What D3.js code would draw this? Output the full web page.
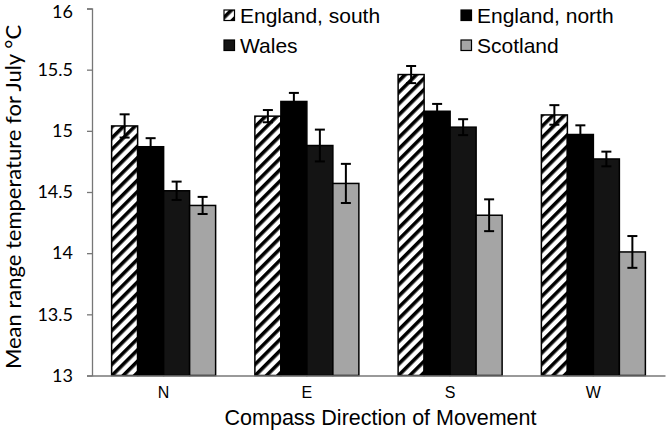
<!DOCTYPE html>
<html>
<head>
<meta charset="utf-8">
<script src="https://cdn.jsdelivr.net/npm/d3@7"></script>
<style>
  body { margin: 0; background: #fff; }
  svg { display: block; }
</style>
</head>
<body>
<div id="chart"></div>
<script>
// directions on the x axis and the four regions
var directions = ["N", "E", "S", "W"];
var regions = ["England, south", "England, north", "Wales", "Scotland"];

// mean July temperature per region, one value per direction (N, E, S, W)
var englandSouth = [15.04, 15.12, 15.46, 15.13];
var englandNorth = [14.87, 15.24, 15.16, 14.97];
var wales = [14.51, 14.88, 15.03, 14.77];
var scotland = [14.39, 14.57, 14.31, 14.01];

// standard errors
var errSouth = [0.095, 0.05, 0.07, 0.08];
var errNorth = [0.07, 0.07, 0.06, 0.075];
var errWales = [0.075, 0.13, 0.065, 0.06];
var errScotland = [0.07, 0.16, 0.13, 0.13];

var yTicks = [13, 13.5, 14, 14.5, 15, 15.5, 16];

var series = [englandSouth, englandNorth, wales, scotland];
var errors = [errSouth, errNorth, errWales, errScotland];

var W = 666, H = 437;
// plot area (note: "top" is reserved on window, so prefixed names)
var plotLeft = 92, plotRight = 665, plotTop = 8.5, plotBottom = 375.5;

var svg = d3.select("#chart").append("svg")
    .attr("width", W)
    .attr("height", H);

// hatch pattern for England, south
var defs = svg.append("defs");
defs.append("pattern")
    .attr("id", "hatch")
    .attr("patternUnits", "userSpaceOnUse")
    .attr("width", 8)
    .attr("height", 8)
    .attr("patternTransform", "rotate(45)")
  .call(function (p) {
    p.append("rect").attr("width", 8).attr("height", 8).attr("fill", "#fff");
    p.append("rect").attr("x", 0).attr("width", 3.6).attr("height", 8).attr("fill", "#000");
  });

var fills = ["url(#hatch)", "#000000", "#141414", "#a5a5a5"];

var x0 = d3.scaleBand()
    .domain(directions)
    .range([plotLeft, plotRight])
    .paddingInner(0.274)
    .paddingOuter(0.137);

var x1 = d3.scaleBand()
    .domain(d3.range(regions.length))
    .range([0, x0.bandwidth()]);

var y = d3.scaleLinear()
    .domain([13, 16])
    .range([plotBottom, plotTop]);

// bars
var groups = svg.append("g").selectAll("g")
    .data(directions)
    .join("g")
    .attr("transform", function (d) { return "translate(" + x0(d) + ",0)"; });

var barData = function (d, i) {
  return series.map(function (s, k) {
    return { k: k, v: s[i], e: errors[k][i] };
  });
};

groups.selectAll("rect")
    .data(barData)
    .join("rect")
    .attr("x", function (d) { return x1(d.k); })
    .attr("y", function (d) { return y(d.v); })
    .attr("width", x1.bandwidth())
    .attr("height", function (d) { return y(13) - y(d.v); })
    .attr("fill", function (d) { return fills[d.k]; })
    .attr("stroke", "#000")
    .attr("stroke-width", 1.5);

// error bars
var eb = groups.selectAll("g.err")
    .data(barData)
    .join("g")
    .attr("class", "err")
    .attr("stroke", "#000")
    .attr("stroke-width", 2);

eb.append("line")
    .attr("x1", function (d) { return x1(d.k) + x1.bandwidth() / 2; })
    .attr("x2", function (d) { return x1(d.k) + x1.bandwidth() / 2; })
    .attr("y1", function (d) { return y(d.v + d.e); })
    .attr("y2", function (d) { return y(d.v - d.e); });
eb.selectAll("line.cap")
    .data(function (d) { return [d.v + d.e, d.v - d.e].map(function (v) { return { k: d.k, v: v }; }); })
    .join("line")
    .attr("class", "cap")
    .attr("x1", function (d) { return x1(d.k) + x1.bandwidth() / 2 - 5; })
    .attr("x2", function (d) { return x1(d.k) + x1.bandwidth() / 2 + 5; })
    .attr("y1", function (d) { return y(d.v); })
    .attr("y2", function (d) { return y(d.v); });

// y axis
var yAxis = svg.append("g")
    .attr("transform", "translate(" + plotLeft + ",0)")
    .call(d3.axisLeft(y).tickValues(yTicks).tickSize(5).tickPadding(14).tickFormat(d3.format("")));
yAxis.select(".domain").attr("stroke", "#777").attr("stroke-width", 1.3);
yAxis.selectAll(".tick line").attr("stroke", "#777").attr("stroke-width", 1.3);
yAxis.selectAll("text")
    .attr("font-family", "Lato, 'Open Sans', sans-serif")
    .attr("font-size", 18)
    .attr("fill", "#000");
// keep the top label inside the picture
yAxis.selectAll(".tick text").filter(function (d) { return d === 16; }).attr("dy", "0.5em");

// x axis
var xAxis = svg.append("g")
    .attr("transform", "translate(0," + plotBottom + ")")
    .call(d3.axisBottom(x0).tickSize(0).tickPadding(11).tickSizeOuter(0));
xAxis.select(".domain").attr("stroke", "#777").attr("stroke-width", 1.3);
xAxis.selectAll("text")
    .attr("font-family", "'Liberation Sans', Arial, sans-serif")
    .attr("font-size", 16)
    .attr("fill", "#000");

// axis titles
svg.append("text")
    .attr("x", (plotLeft + plotRight) / 2 + 2)
    .attr("y", 425)
    .attr("text-anchor", "middle")
    .attr("font-family", "'Liberation Sans', Arial, sans-serif")
    .attr("font-size", 21.5)
    .text("Compass Direction of Movement");

svg.append("text")
    .attr("transform", "translate(21," + ((plotBottom + plotTop) / 2 + 5) + ") rotate(-90)")
    .attr("text-anchor", "middle")
    .attr("font-family", "Lato, 'Open Sans', sans-serif")
    .attr("font-size", 22)
    .text("Mean range temperature for July °C");

// legend
var legendPos = [[224, 15], [461, 15], [224, 45], [461, 45]];
var legend = svg.append("g").selectAll("g")
    .data(regions)
    .join("g")
    .attr("transform", function (d, i) { return "translate(" + legendPos[i][0] + "," + legendPos[i][1] + ")"; });
legend.append("rect")
    .attr("x", 0)
    .attr("y", -5)
    .attr("width", 10.5)
    .attr("height", 10.5)
    .attr("fill", function (d, i) { return fills[i]; })
    .attr("stroke", "#000")
    .attr("stroke-width", 1.2);
legend.append("text")
    .attr("x", 16)
    .attr("y", 8)
    .attr("font-family", "'Liberation Sans', Arial, sans-serif")
    .attr("font-size", 21)
    .text(function (d) { return d; });
</script>
</body>
</html>
